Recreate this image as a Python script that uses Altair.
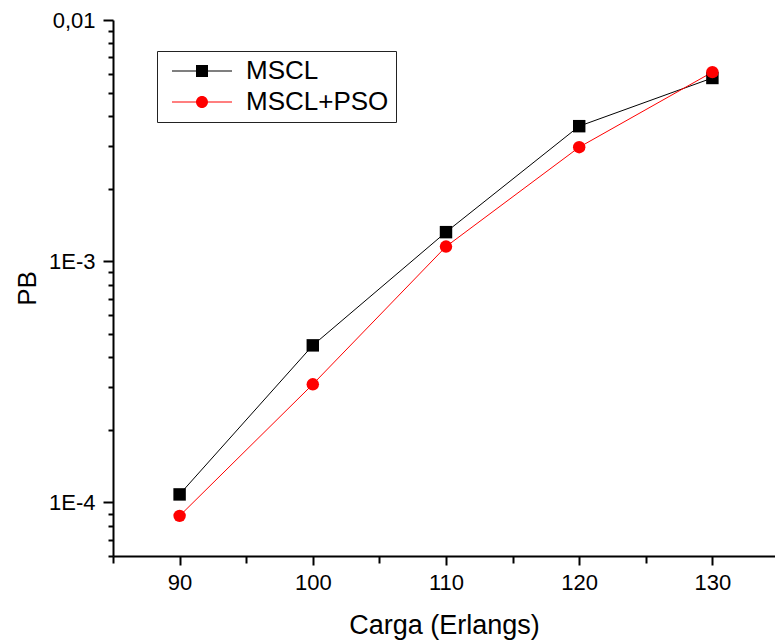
import altair as alt
import pandas as pd

# ---- data ----
loads = [90, 100, 110, 120, 130]
pb_mscl = [1.08e-4, 4.48e-4, 1.32e-3, 3.63e-3, 5.75e-3]
pb_mscl_pso = [8.8e-5, 3.09e-4, 1.15e-3, 2.97e-3, 6.08e-3]
series_names = ["MSCL", "MSCL+PSO"]
series_colors = ["#000000", "#ff0000"]
series_shapes = ["square", "circle"]

x_ticks = [85, 90, 95, 100, 105, 110, 115, 120, 125, 130, 135]
y_ticks = [6e-5, 7e-5, 8e-5, 9e-5, 1e-4,
           2e-4, 3e-4, 4e-4, 5e-4, 6e-4, 7e-4, 8e-4, 9e-4, 1e-3,
           2e-3, 3e-3, 4e-3, 5e-3, 6e-3, 7e-3, 8e-3, 9e-3, 1e-2]

rows = []
for name, vals in zip(series_names, [pb_mscl, pb_mscl_pso]):
    for x, v in zip(loads, vals):
        rows.append({"load": x, "pb": v, "series": name})
df = pd.DataFrame(rows)

FONT = "Liberation Sans"

xscale = alt.Scale(domain=[85, 134.7], nice=False, zero=False)
yscale = alt.Scale(type="log", domain=[6e-5, 1e-2], nice=False)

x_major_test = "datum.value % 10 == 0"
y_major_test = "abs(log(datum.value)/LN10 - round(log(datum.value)/LN10)) < 0.001"

common_axis = dict(grid=False, labelFont=FONT, titleFont=FONT, labelColor="black",
                   titleColor="black", domainColor="black", tickColor="black",
                   titleFontWeight="normal", tickWidth=2, domainWidth=2, tickCount=200)

x_axis = alt.Axis(values=x_ticks, title="Carga (Erlangs)", orient="bottom",
                  tickSize={"condition": {"test": x_major_test, "value": 9}, "value": 7},
                  labelExpr=f"({x_major_test}) ? format(datum.value, 'd') : ''",
                  labelFontSize=22, titleFontSize=27,
                  labelPadding=7, titlePadding=19, labelFlush=False, labelOverlap=False,
                  **common_axis)
y_axis = alt.Axis(values=y_ticks, title="PB", orient="left",
                  tickSize={"condition": {"test": y_major_test, "value": 10}, "value": 5},
                  labelFontSize=22, titleFontSize=26,
                  labelPadding=8, titlePadding=8, labelOverlap=False,
                  labelExpr=f"({y_major_test}) ? (datum.value > 0.005 ? '0,01' : (datum.value > 0.0005 ? '1E-3' : '1E-4')) : ''",
                  **common_axis)

base = alt.Chart(df)

lines = base.mark_line(strokeWidth=1).encode(
    x=alt.X("load:Q", scale=xscale, axis=x_axis),
    y=alt.Y("pb:Q", scale=yscale, axis=y_axis),
    color=alt.Color("series:N", scale=alt.Scale(domain=series_names, range=series_colors), legend=None),
)

points = base.mark_point(filled=True, size=155, opacity=1).encode(
    x=alt.X("load:Q", scale=xscale),
    y=alt.Y("pb:Q", scale=yscale),
    color=alt.Color("series:N", scale=alt.Scale(domain=series_names, range=series_colors), legend=None),
    shape=alt.Shape("series:N", scale=alt.Scale(domain=series_names, range=series_shapes), legend=None),
)

# legend symbols: thin bar through the marker (filled paths, unit = half marker size)
legend_paths = [
    "M-5,-0.09L-0.99,-0.09L-0.99,0.09L-5,0.09Z M0.99,-0.09L5,-0.09L5,0.09L0.99,0.09Z M-1,-1L1,-1L1,1L-1,1Z",
    "M-5,-0.09L-0.99,-0.09L-0.99,0.09L-5,0.09Z M0.99,-0.09L5,-0.09L5,0.09L0.99,0.09Z M1,0A1,1,0,1,1,-1,0A1,1,0,1,1,1,0Z",
]
leg = alt.Legend(title=None, orient="none", legendX=44, legendY=31,
                 symbolSize=144, symbolStrokeWidth=0, symbolOffset=25, labelOffset=31,
                 labelFontSize=26, labelFont=FONT, labelColor="black", padding=7,
                 rowPadding=5, strokeColor="#222222", fillColor="white",
                 cornerRadius=0, symbolOpacity=1, labelLimit=400)

legend_layer = base.transform_filter("false").mark_point(filled=True, size=144, opacity=1).encode(
    x=alt.X("load:Q", scale=xscale),
    y=alt.Y("pb:Q", scale=yscale),
    color=alt.Color("series:N", scale=alt.Scale(domain=series_names, range=series_colors), legend=leg),
    shape=alt.Shape("series:N", scale=alt.Scale(domain=series_names, range=legend_paths), legend=leg),
)

chart = alt.layer(lines, points, legend_layer).resolve_scale(
    shape="independent", color="independent"
).properties(
    width=662, height=536,
    autosize=alt.AutoSizeParams(type="none"),
    padding={"left": 113, "top": 20, "right": 0, "bottom": 88},
    background="white",
).configure_view(stroke=None)

chart.save("out.html", embed_options={"renderer": "svg", "actions": False})
